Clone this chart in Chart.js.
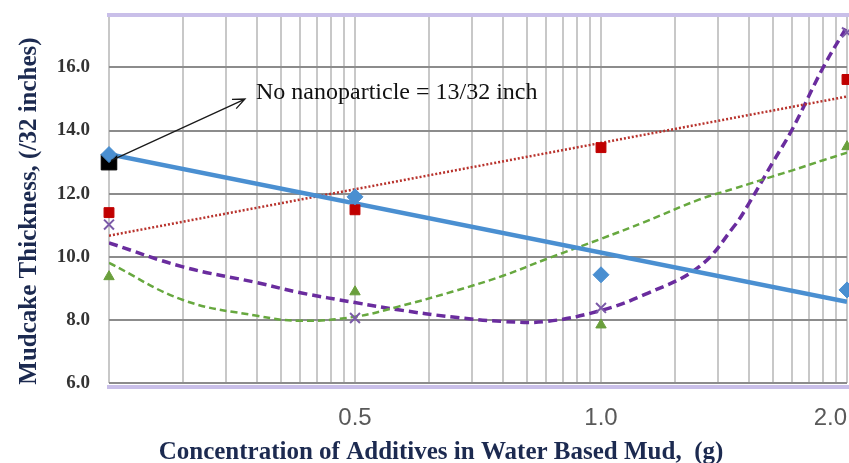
<!DOCTYPE html>
<html>
<head>
<meta charset="utf-8">
<script src="https://cdn.jsdelivr.net/npm/chart.js@4.4.1/dist/chart.umd.min.js"></script>
<style>
  html, body { margin: 0; padding: 0; background: #fff; }
</style>
</head>
<body>
<canvas id="myCanvas" width="849" height="463"></canvas>
<script>
// additive concentration (g) and where each sits on the log axis
var concLabels = ['0', '0.5', '1.0', '2.0'];
var concPos = [1, 10, 100, 1000];

// mudcake thickness, /32 inch
var baseline = [13.0];
var seriesBlue = [13.24, 11.9, 9.43, 8.95];
var seriesRed = [11.4, 11.49, 13.46, 15.62];
var seriesGreen = [9.37, 8.89, 7.84, 13.49];
var seriesPurple = [11.02, 8.06, 8.38, 17.11];

// trendlines
var linePos = [1, 1000];
var trendBlue = [13.25, 8.57];
var trendRed = [10.67, 15.08];
var trendPos = [1, 2, 4, 6, 10, 15, 25, 40, 60, 100, 150, 250, 350, 400, 500, 600, 800, 1000];
var trendGreen = [9.81, 8.63, 8.13, 7.97, 8.10, 8.42, 8.90, 9.40, 9.93, 10.57, 11.10, 11.81, 12.17, 12.31, 12.55, 12.74, 13.06, 13.30];
var trendPurple = [10.44, 9.68, 9.18, 8.86, 8.55, 8.32, 8.09, 7.95, 7.95, 8.30, 8.80, 9.68, 11.0, 11.70, 13.0, 14.05, 16.0, 17.30];

var yTicks = [6, 8, 10, 12, 14, 16];

function pts(xs, ys){
  return ys.map(function(y, i){ return {x: xs[i], y: y}; });
}

// lavender frame lines, arrow + note, axis titles
var annotate = {
  id: 'annotate',
  beforeDatasetsDraw: function(chart){
    var c = chart.ctx, a = chart.chartArea;
    c.save();
    c.fillStyle = '#c9bfe9';
    c.fillRect(a.left - 2, a.top - 4, a.right - a.left + 4, 4);
    c.fillRect(a.left - 2, a.bottom + 2, a.right - a.left + 4, 4);
    c.restore();
  },
  afterDraw: function(chart){
    var c = chart.ctx, a = chart.chartArea;
    var xs = chart.scales.x, ys = chart.scales.y;
    var x0 = xs.getPixelForValue(1) + 2, y0 = ys.getPixelForValue(13.05);
    var x1 = xs.getPixelForValue(3.57), y1 = ys.getPixelForValue(15.0);
    var ang = Math.atan2(y1 - y0, x1 - x0);
    c.save();
    c.strokeStyle = '#1a1a1a';
    c.lineWidth = 1.3;
    c.beginPath();
    c.moveTo(x0, y0);
    c.lineTo(x1, y1);
    c.moveTo(x1 - 13 * Math.cos(ang - 0.4), y1 - 13 * Math.sin(ang - 0.4));
    c.lineTo(x1, y1);
    c.lineTo(x1 - 13 * Math.cos(ang + 0.4), y1 - 13 * Math.sin(ang + 0.4));
    c.stroke();

    c.fillStyle = '#111';
    c.font = '24px "Liberation Serif"';
    c.textAlign = 'left';
    c.textBaseline = 'alphabetic';
    c.fillText('No nanoparticle = 13/32 inch', xs.getPixelForValue(3.96), ys.getPixelForValue(15.0));

    c.fillStyle = '#1c2a50';
    c.font = 'bold 25px "Liberation Serif"';
    c.textAlign = 'center';
    c.fillText('Concentration of Additives in Water Based Mud,  (g)', (a.left + a.right) / 2 - 37, 459);

    c.translate(36, (a.top + a.bottom) / 2 + 11);
    c.rotate(-Math.PI / 2);
    c.fillText('Mudcake Thickness, (/32 inches)', 0, 0);
    c.restore();
  }
};

function draw(){
  var ctx = document.getElementById('myCanvas').getContext('2d');
  var chart = new Chart(ctx, {
    type: 'scatter',
    data: {
      datasets: [
        { label: 'No nanoparticle', data: pts(concPos, baseline), pointStyle: 'rect', pointRadius: 11,
          backgroundColor: '#000', borderColor: '#000', order: 2, clip: false },
        { label: 'Series 1', data: pts(concPos, seriesBlue), pointStyle: 'rectRot', pointRadius: 8,
          backgroundColor: '#4a8fd1', borderColor: '#4a8fd1', order: 1, clip: false },
        { label: 'Series 2', data: pts(concPos, seriesRed), pointStyle: 'rect', pointRadius: 7,
          backgroundColor: '#c00000', borderColor: '#c00000', order: 1, clip: false },
        { label: 'Series 3', data: pts(concPos, seriesGreen), pointStyle: 'triangle', pointRadius: 6,
          backgroundColor: '#6a9f3c', borderColor: '#6a9f3c', order: 1, clip: false },
        { label: 'Series 4', data: pts(concPos, seriesPurple), pointStyle: 'crossRot', pointRadius: 7,
          borderWidth: 2, backgroundColor: '#7b5aa8', borderColor: '#7b5aa8', order: 1, clip: false },
        { label: 'Trend 1', data: pts(linePos, trendBlue), showLine: true, pointRadius: 0,
          borderColor: '#4a8fd1', borderWidth: 4.5, order: 3 },
        { label: 'Trend 2', data: pts(linePos, trendRed), showLine: true, pointRadius: 0,
          borderColor: '#b8322c', borderWidth: 2.5, borderDash: [2, 2], order: 3 },
        { label: 'Trend 3', data: pts(trendPos, trendGreen), showLine: true, pointRadius: 0,
          borderColor: '#67a83f', borderWidth: 2.5, borderDash: [7, 4], tension: 0.4, order: 3 },
        { label: 'Trend 4', data: pts(trendPos, trendPurple), showLine: true, pointRadius: 0,
          borderColor: '#6a2c9e', borderWidth: 3.5, borderDash: [9, 5], tension: 0.4, order: 3 }
      ]
    },
    options: {
      responsive: false,
      animation: false,
      layout: { autoPadding: false, padding: { top: 17, right: 2, left: 0, bottom: 0 } },
      plugins: { legend: { display: false }, tooltip: { enabled: false } },
      scales: {
        x: {
          type: 'logarithmic', min: 1, max: 1000,
          afterBuildTicks: function(axis){
            var t = [];
            for (var d = 1; d < 1000; d *= 10) {
              for (var m = 1; m < 10; m++) t.push({ value: m * d });
            }
            t.push({ value: 1000 });
            axis.ticks = t;
          },
          afterFit: function(axis){
            axis.height = 80;
            axis.paddingLeft = 0;
            axis.paddingRight = 0;
          },
          grid: { color: '#c8c8c8', lineWidth: 2, drawTicks: true, tickLength: 21, tickColor: 'rgba(0,0,0,0)' },
          border: { display: false },
          ticks: {
            autoSkip: false, maxRotation: 0, align: 'inner', padding: 0,
            color: '#595959', font: { family: 'Liberation Sans', size: 24 },
            callback: function(v){ var i = concPos.indexOf(v); return i > 0 ? concLabels[i] : ''; }
          }
        },
        y: {
          min: 6, max: 17.6,
          afterBuildTicks: function(axis){
            axis.ticks = yTicks.map(function(v){ return { value: v }; });
          },
          afterFit: function(axis){ axis.width = 109; },
          grid: { color: '#8c8c8c', lineWidth: 2, drawTicks: true, tickLength: 19, tickColor: 'rgba(0,0,0,0)' },
          border: { display: false },
          ticks: {
            padding: 0, color: '#333',
            font: { family: 'Liberation Serif', size: 19, weight: 'bold' },
            callback: function(v){ return v.toFixed(1); }
          }
        }
      }
    },
    plugins: [annotate]
  });
}
draw();
</script>
</body>
</html>
